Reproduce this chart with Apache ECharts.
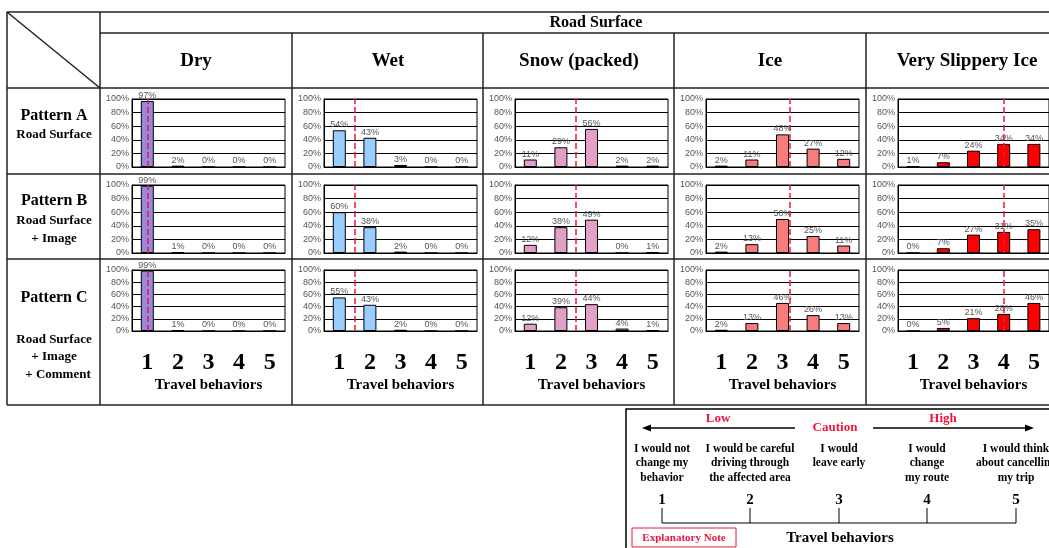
<!DOCTYPE html>
<html>
<head>
<meta charset="utf-8">
<script src="https://cdn.jsdelivr.net/npm/echarts@6/dist/echarts.min.js"></script>
<style>html,body{margin:0;padding:0;background:#fff}#chart{width:1049px;height:548px}</style>
</head>
<body>
<div id="chart"></div>
<script>
var behaviors = [1, 2, 3, 4, 5];
var surfaces = ['Dry', 'Wet', 'Snow (packed)', 'Ice', 'Very Slippery Ice'];
var surfaceColors = ['#9988dd', '#99ccff', '#e2a0c8', '#f77c7c', '#ff0000'];
// % of answers per travel behavior; rows = Pattern A, B, C
var dry = [[97, 2, 0, 0, 0], [99, 1, 0, 0, 0], [99, 1, 0, 0, 0]];
var wet = [[54, 43, 3, 0, 0], [60, 38, 2, 0, 0], [55, 43, 2, 0, 0]];
var snow = [[11, 29, 56, 2, 2], [12, 38, 49, 0, 1], [12, 39, 44, 4, 1]];
var ice = [[2, 11, 48, 27, 12], [2, 13, 50, 25, 11], [2, 13, 46, 26, 13]];
var slippery = [[1, 7, 24, 34, 34], [0, 7, 27, 31, 35], [0, 5, 21, 28, 46]];
// red dashed line (caution level) per surface
var cautionLevel = [1, 1.5, 2.5, 3.25, 4];
var allData = [dry, wet, snow, ice, slippery];

var colLeft = [132, 324, 515, 706, 898];
var rowTop = [99, 185, 270];
var rowHeight = [68, 68, 61];
var serif = '"Liberation Serif", "DejaVu Serif", serif';
var red = '#f0143c';

var dom = document.getElementById('chart');
var myChart = echarts.init(dom);

var grids = [], xAxes = [], yAxes = [], series = [];
for (var s = 0; s < 5; s++) {
    for (var p = 0; p < 3; p++) {
        var idx = grids.length;
        grids.push({
            left: colLeft[s], top: rowTop[p], width: 153, height: rowHeight[p],
            show: true, borderColor: '#000', borderWidth: 1
        });
        var last = p == 2;
        xAxes.push({
            gridIndex: idx, type: 'value', min: 0.5, max: 5.5,
            splitLine: {show: false}, axisTick: {show: false},
            axisLine: {lineStyle: {color: '#000'}},
            axisLabel: {
                show: last, customValues: behaviors, margin: 20,
                fontSize: 24, fontWeight: 'bold', fontFamily: serif, color: '#000'
            },
            name: last ? 'Travel behaviors' : '', nameLocation: 'middle', nameGap: 47,
            nameTextStyle: {fontSize: 15, fontWeight: 'bold', fontFamily: serif, color: '#000'}
        });
        yAxes.push({
            gridIndex: idx, type: 'value', min: 0, max: 100, interval: 20,
            axisLine: {show: true, lineStyle: {color: '#000'}}, axisTick: {show: false},
            axisLabel: {formatter: '{value}%', fontSize: 9, color: '#555', margin: 3, fontFamily: 'Arial, "Liberation Sans"'},
            splitLine: {lineStyle: {color: '#000', width: 1}}
        });
        var vals = allData[s][p];
        series.push({
            type: 'bar', xAxisIndex: idx, yAxisIndex: idx, barWidth: 13,
            data: behaviors.map(function (b, i) { return [b, vals[i]]; }),
            itemStyle: {color: surfaceColors[s], borderColor: '#000', borderWidth: 1},
            label: {
                show: true, position: 'top', distance: 1, fontSize: 9, color: '#555',
                fontFamily: 'Arial, "Liberation Sans"',
                formatter: function (d) { return d.value[1] + '%'; }
            },
            markLine: {
                silent: true, symbol: 'none', label: {show: false},
                lineStyle: {color: red, type: 'dashed', width: 1.5},
                data: [{xAxis: cautionLevel[s]}]
            }
        });
    }
}

function ln(x1, y1, x2, y2, w, c) {
    return {type: 'line', silent: true, shape: {x1: x1, y1: y1, x2: x2, y2: y2},
        style: {stroke: c || '#222', lineWidth: w || 1.5}};
}
function txt(x, y, t, font, fill) {
    return {type: 'text', silent: true, x: x, y: y,
        style: {text: t, font: font, fill: fill || '#000', textAlign: 'center', textVerticalAlign: 'middle',
            align: 'center', verticalAlign: 'middle'}};
}

var g = [];
// table frame
g.push(ln(7, 12, 1049, 12), ln(7, 12, 7, 405), ln(7, 405, 1049, 405), ln(100, 12, 100, 405),
    ln(100, 33, 1049, 33), ln(7, 88, 1049, 88), ln(7, 174, 1049, 174), ln(7, 259, 1049, 259),
    ln(7, 12, 100, 88));
[292, 483, 674, 866].forEach(function (x) { g.push(ln(x, 33, x, 405)); });
g.push(txt(596, 23, 'Road Surface', 'bold 16px ' + serif));
var headX = [196, 388, 579, 770, 967];
surfaces.forEach(function (n, i) { g.push(txt(headX[i], 61, n, 'bold 19px ' + serif)); });
g.push(txt(54, 116, 'Pattern A', 'bold 16px ' + serif), txt(54, 135, 'Road Surface', 'bold 13px ' + serif));
g.push(txt(54, 201, 'Pattern B', 'bold 16px ' + serif), txt(54, 221, 'Road Surface', 'bold 13px ' + serif),
    txt(54, 239, '+ Image', 'bold 13px ' + serif));
g.push(txt(54, 298, 'Pattern C', 'bold 16px ' + serif), txt(54, 340, 'Road Surface', 'bold 13px ' + serif),
    txt(54, 357, '+ Image', 'bold 13px ' + serif), txt(58, 375, '+ Comment', 'bold 13px ' + serif));

// explanatory note
g.push({type: 'rect', silent: true, shape: {x: 626, y: 409, width: 440, height: 150},
    style: {fill: 'none', stroke: '#000', lineWidth: 1.5}});
g.push(ln(648, 428, 795, 428, 1.5, '#000'), ln(873, 428, 1028, 428, 1.5, '#000'));
g.push({type: 'polygon', silent: true, shape: {points: [[642, 428], [651, 424.5], [651, 431.5]]}, style: {fill: '#000'}});
g.push({type: 'polygon', silent: true, shape: {points: [[1034, 428], [1025, 424.5], [1025, 431.5]]}, style: {fill: '#000'}});
g.push(txt(718, 419, 'Low', 'bold 13px ' + serif, red), txt(835, 428, 'Caution', 'bold 13px ' + serif, red),
    txt(943, 419, 'High', 'bold 13px ' + serif, red));
var noteX = [662, 750, 839, 927, 1016];
var noteText = [
    ['I would not', 'change my', 'behavior'],
    ['I would be careful', 'driving through', 'the affected area'],
    ['I would', 'leave early'],
    ['I would', 'change', 'my route'],
    ['I would think', 'about cancelling', 'my trip']
];
noteText.forEach(function (lines, i) {
    lines.forEach(function (l, j) { g.push(txt(noteX[i], 449 + j * 14.5, l, 'bold 11.5px ' + serif)); });
    g.push(txt(noteX[i], 500, String(behaviors[i]), 'bold 15px ' + serif));
    g.push(ln(noteX[i], 508, noteX[i], 523, 1, '#000'));
});
g.push(ln(noteX[0], 523, noteX[4], 523, 1, '#000'));
g.push({type: 'rect', silent: true, shape: {x: 632, y: 528, width: 104, height: 19},
    style: {fill: 'none', stroke: red, lineWidth: 1}});
g.push(txt(684, 538, 'Explanatory Note', 'bold 11px ' + serif, red));
g.push(txt(840, 538, 'Travel behaviors', 'bold 15px ' + serif));

option = {
    animation: false,
    grid: grids,
    xAxis: xAxes,
    yAxis: yAxes,
    series: series,
    graphic: g
};
myChart.setOption(option, true);
</script>
</body>
</html>
